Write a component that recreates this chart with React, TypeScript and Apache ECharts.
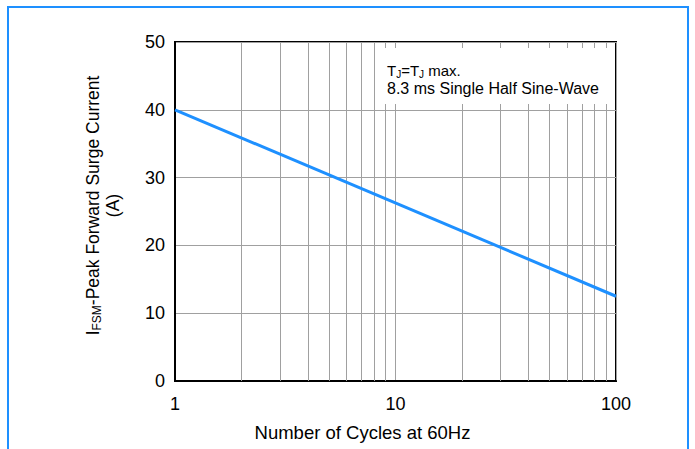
import React, { useEffect, useRef } from "react";
import * as echarts from "echarts";

const cycles = [1, 100];
const surgeCurrent = [40, 12.5];
const minorGridX = [2, 3, 4, 5, 6, 7, 8, 9, 20, 30, 40, 50, 60, 70, 80, 90];
const yTicks = [0, 10, 20, 30, 40, 50];
const xTickLabels = ["1", "10", "100"];

const FONT = "Liberation Sans, Arial, sans-serif";
const BLUE = "#1E90FF";
const GRID = "#a0a0a0";
const TXT = "#000";

export default function App() {
  const ref = useRef<HTMLDivElement>(null);
  useEffect(() => {
    if (!ref.current) return;
    const chart = echarts.init(ref.current, undefined, { renderer: "svg" });
    chart.setOption({
      animation: false,
      backgroundColor: "#fff",
      textStyle: { fontFamily: FONT },
      grid: {
        left: 175,
        top: 42,
        right: 79,
        bottom: 68,
        show: true,
        borderColor: "#000",
        borderWidth: 2,
      },
      xAxis: {
        type: "log",
        logBase: 10,
        min: 1,
        max: 100,
        axisLine: { lineStyle: { color: "#000", width: 2 } },
        axisTick: { show: false },
        axisLabel: {
          color: TXT,
          fontSize: 18,
          fontFamily: FONT,
          margin: 14,
          formatter: (v: number) => {
            const s = String(Math.round(v));
            return xTickLabels.includes(s) ? s : "";
          },
        },
        splitLine: { show: true, lineStyle: { color: GRID, width: 1 } },
        name: "Number of Cycles at 60Hz",
        nameLocation: "middle",
        nameGap: 42,
        nameTextStyle: {
          color: TXT,
          fontSize: 18.5,
          fontFamily: FONT,
          padding: [0, 66, 0, 0],
        },
      },
      yAxis: {
        type: "value",
        min: yTicks[0],
        max: yTicks[yTicks.length - 1],
        interval: 10,
        axisLine: { show: true, lineStyle: { color: "#000", width: 2 } },
        axisTick: { show: false },
        axisLabel: { color: TXT, fontSize: 18, fontFamily: FONT, margin: 10 },
        splitLine: { show: true, lineStyle: { color: GRID, width: 1 } },
        name: "{m|I}{s|FSM}{m|-Peak Forward Surge Current}\n{m|(A)}",
        nameLocation: "middle",
        nameRotate: 90,
        nameGap: 52,
        nameTextStyle: {
          color: TXT,
          fontFamily: FONT,
          padding: [0, 0, 0, 12],
          rich: {
            m: { fontSize: 17.5, lineHeight: 20, fontFamily: FONT, color: TXT },
            s: { fontSize: 12, lineHeight: 12, verticalAlign: "bottom", fontFamily: FONT, color: TXT },
          },
        },
      },
      series: [
        {
          type: "line",
          data: cycles.map((c, i) => [c, surgeCurrent[i]]),
          symbol: "none",
          lineStyle: { color: BLUE, width: 3 },
          z: 5,
          markLine: {
            silent: true,
            symbol: "none",
            label: { show: false },
            lineStyle: { color: GRID, width: 1, type: "solid" },
            data: minorGridX.map((x) => ({ xAxis: x })),
            z: 1,
          },
        },
      ],
      graphic: [
        {
          type: "rect",
          z: 100,
          shape: { x: 380, y: 48, width: 235, height: 56 },
          style: { fill: "#fff" },
        },
        {
          type: "text",
          z: 101,
          x: 387,
          y: 61,
          style: {
            text: "{m|T}{s|J}{m|=T}{s|J}{m| max.}",
            fontFamily: FONT,
            rich: {
              m: { fontSize: 15, fontFamily: FONT, fill: TXT, lineHeight: 18 },
              s: { fontSize: 10, fontFamily: FONT, fill: TXT, lineHeight: 10, verticalAlign: "bottom" },
            },
          },
        },
        {
          type: "text",
          z: 101,
          x: 387,
          y: 80,
          style: {
            text: "8.3 ms Single Half Sine-Wave",
            fontFamily: FONT,
            fontSize: 16,
            fill: TXT,
          },
        },
        {
          type: "rect",
          z: 120,
          shape: { x: 8, y: 7, width: 680, height: 470 },
          style: { fill: "none", stroke: BLUE, lineWidth: 2 },
        },
      ],
    });
    return () => chart.dispose();
  }, []);
  return (
    <div
      ref={ref}
      style={{ position: "fixed", left: 0, top: 0, width: 695, height: 449 }}
    />
  );
}
